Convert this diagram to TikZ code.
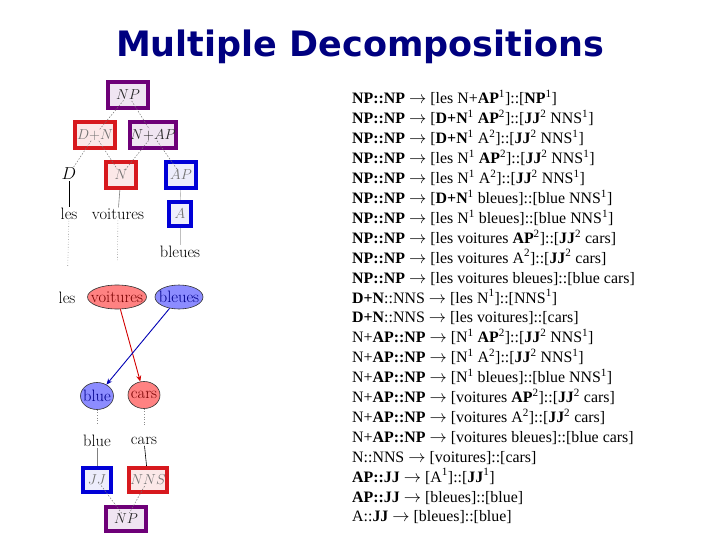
\documentclass[tikz,border=0pt]{standalone}
\usepackage{fontspec}
\usepackage{tikz}
\usetikzlibrary{arrows.meta,shapes.geometric}
\newfontfamily\rulefont{Liberation Serif}
\newfontfamily\titlefont{DejaVu Sans}
\definecolor{navy}{RGB}{0,0,128}
\definecolor{npurple}{RGB}{110,0,120}
\definecolor{nred}{RGB}{215,25,30}
\definecolor{nblue}{RGB}{0,0,215}
\definecolor{ellred}{RGB}{255,130,130}
\definecolor{ellblue}{RGB}{140,140,255}
\definecolor{vored}{RGB}{120,0,0}
\definecolor{bldark}{RGB}{0,0,140}
\definecolor{arrred}{RGB}{210,0,0}
\definecolor{arrblue}{RGB}{0,0,180}
\newcommand\nt[1]{\textbf{#1}}
\newcommand\ix[1]{\textsuperscript{#1}}
\newcommand\ra{$\rightarrow$}

\begin{document}
\begin{tikzpicture}[x=1pt, y=-1pt,
  tbox/.style={draw, line width=3.6pt, inner sep=0pt, minimum height=25.5pt,
    font=\fontsize{15.5}{17}\selectfont},
  pbox/.style={tbox, draw=npurple, fill=npurple!10, text=black!85},
  rbox/.style={tbox, draw=nred, fill=nred!10, text=black!55},
  bbox/.style={tbox, draw=nblue, fill=nblue!7, text=black!55},
  wrd/.style={inner sep=1pt, font=\fontsize{16.5}{18}\selectfont},
  ell/.style={ellipse, draw=black!80, line width=0.6pt, inner xsep=-14pt,
    inner ysep=0pt, minimum height=24pt, font=\fontsize{16.5}{18}\selectfont},
  ered/.style={ell, fill=ellred, text=vored},
  eblue/.style={ell, fill=ellblue, text=bldark},
  link/.style={draw=black!55, line width=0.5pt, dash pattern=on 1.5pt off 1.5pt,
    shorten <=7pt, shorten >=7pt},
  stem/.style={draw=black, line width=0.6pt},
  faint/.style={draw=black!25, line width=0.6pt},
  dots/.style={draw=black!45, line width=0.6pt, dotted, shorten >=24pt},
  redarr/.style={-{Stealth[length=6pt,width=5pt]}, draw=arrred, line width=0.9pt},
  bluearr/.style={-{Stealth[length=6pt,width=5pt]}, draw=arrblue, line width=0.9pt},
  rule/.style={anchor=base west, inner sep=0pt,
    font=\rulefont\fontsize{15.9}{18}\selectfont}
]
\useasboundingbox (0,0) rectangle (720,540);

% title
\node[font=\titlefont\bfseries\fontsize{35}{40}\selectfont, text=navy, anchor=base]
  (title) at (360,57) {Multiple Decompositions};

% French tree
\node[pbox, minimum width=39.5pt] (NP) at (128,95) {$NP$};
\node[rbox, minimum width=39.5pt] (DN) at (95,135) {$D{+}N$};
\node[pbox, minimum width=46.5pt] (NAP) at (153,135) {$N{+}AP$};
\node[wrd] (D) at (69,174) {$D$};
\node[rbox, minimum width=30.5pt, minimum height=26.5pt] (N) at (121,175) {$N$};
\node[bbox, minimum width=29.5pt, minimum height=26.5pt] (AP) at (181,175) {$AP$};
\node[bbox, minimum width=22.5pt, minimum height=24.5pt] (A) at (180,214) {$A$};
\node[wrd] (les) at (69,214) {les};
\node[wrd] (voitures) at (118,214) {voitures};
\node[wrd] (bleues) at (180,252) {bleues};

\draw[link] (NP.center) -- (DN.center);
\draw[link] (NP.center) -- (NAP.center);
\draw[link] (DN.center) -- (D.center);
\draw[link] (DN.center) -- (N.center);
\draw[link] (NAP.center) -- (N.center);
\draw[link] (NAP.center) -- (AP.center);
\draw[stem] (D) -- (les);
\draw[faint, draw=black!50] (N) -- (voitures);
\draw[faint] (AP) -- (A);
\draw[faint] (A) -- (bleues);

% word alignment
\node[wrd] (les2) at (67,298) {les};
\node[ered, minimum width=59pt] (voitures2) at (117,297) {voitures};
\node[eblue, minimum width=48pt] (bleues2) at (179,297) {bleues};
\node[eblue, minimum width=33pt, minimum height=27pt] (blue2) at (97,396) {blue};
\node[ered, minimum width=32pt, minimum height=27pt] (cars2) at (144,395) {cars};

\draw[dots] (les) -- (les2);
\draw[dots] (voitures) -- (voitures2);
\draw[redarr] (voitures2) -- (cars2);
\draw[bluearr] (bleues2) -- (blue2);

% English tree
\node[wrd] (blue) at (97,441) {blue};
\node[wrd] (cars) at (144,441) {cars};
\node[bbox, minimum width=28.5pt, minimum height=24.5pt] (JJ) at (97,480) {$JJ$};
\node[rbox, minimum width=37.5pt, minimum height=24.5pt] (NNS) at (148,480) {$NNS$};
\node[pbox, minimum width=40.5pt, minimum height=24.5pt] (NPe) at (126,519) {$NP$};

\draw[dots, shorten >=10pt] (blue2) -- (blue);
\draw[dots, shorten >=10pt] (cars2) -- (cars);
\draw[faint, draw=black!50] (blue) -- (JJ);
\draw[stem] (cars) -- (NNS);
\draw[link] (JJ.center) -- (NPe.center);
\draw[link] (NNS.center) -- (NPe.center);

% extracted rules
\foreach \txt [count=\i] in {
  {\nt{NP::NP} \ra{} [les N+\nt{AP}\ix1]::[\nt{NP}\ix1]},
  {\nt{NP::NP} \ra{} [\nt{D+N}\ix1 \nt{AP}\ix2]::[\nt{JJ}\ix2 NNS\ix1]},
  {\nt{NP::NP} \ra{} [\nt{D+N}\ix1 A\ix2]::[\nt{JJ}\ix2 NNS\ix1]},
  {\nt{NP::NP} \ra{} [les N\ix1 \nt{AP}\ix2]::[\nt{JJ}\ix2 NNS\ix1]},
  {\nt{NP::NP} \ra{} [les N\ix1 A\ix2]::[\nt{JJ}\ix2 NNS\ix1]},
  {\nt{NP::NP} \ra{} [\nt{D+N}\ix1 bleues]::[blue NNS\ix1]},
  {\nt{NP::NP} \ra{} [les N\ix1 bleues]::[blue NNS\ix1]},
  {\nt{NP::NP} \ra{} [les voitures \nt{AP}\ix2]::[\nt{JJ}\ix2 cars]},
  {\nt{NP::NP} \ra{} [les voitures A\ix2]::[\nt{JJ}\ix2 cars]},
  {\nt{NP::NP} \ra{} [les voitures bleues]::[blue cars]},
  {\nt{D+N}::NNS \ra{} [les N\ix1]::[NNS\ix1]},
  {\nt{D+N}::NNS \ra{} [les voitures]::[cars]},
  {N+\nt{AP::NP} \ra{} [N\ix1 \nt{AP}\ix2]::[\nt{JJ}\ix2 NNS\ix1]},
  {N+\nt{AP::NP} \ra{} [N\ix1 A\ix2]::[\nt{JJ}\ix2 NNS\ix1]},
  {N+\nt{AP::NP} \ra{} [N\ix1 bleues]::[blue NNS\ix1]},
  {N+\nt{AP::NP} \ra{} [voitures \nt{AP}\ix2]::[\nt{JJ}\ix2 cars]},
  {N+\nt{AP::NP} \ra{} [voitures A\ix2]::[\nt{JJ}\ix2 cars]},
  {N+\nt{AP::NP} \ra{} [voitures bleues]::[blue cars]},
  {N::NNS \ra{} [voitures]::[cars]},
  {\nt{AP::JJ} \ra{} [A\ix1]::[\nt{JJ}\ix1]},
  {\nt{AP::JJ} \ra{} [bleues]::[blue]},
  {A::\nt{JJ} \ra{} [bleues]::[blue]}}
  \node[rule] (rule\i) at (352,{104+19.9*(\i-1)}) {\txt};

\end{tikzpicture}
\end{document}
